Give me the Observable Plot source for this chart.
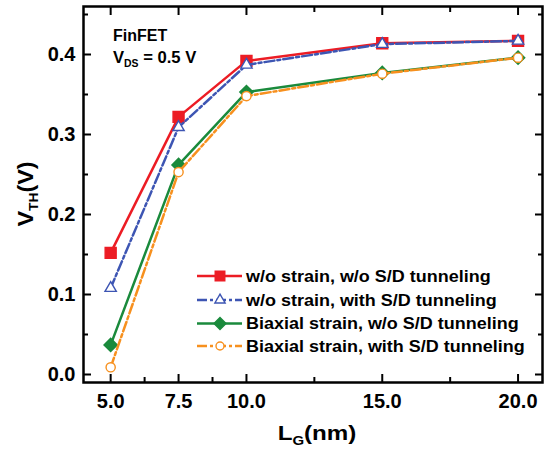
<!DOCTYPE html>
<html>
<head>
<meta charset="utf-8">
<script src="https://cdn.jsdelivr.net/npm/d3@7"></script>
<script src="https://cdn.jsdelivr.net/npm/@observablehq/plot@0.6"></script>
<style>
  html, body { margin: 0; padding: 0; background: #fff; }
  #wrap { position: relative; width: 544px; height: 457px; font-family: "Liberation Sans", Arial, sans-serif; }
  #overlay { position: absolute; left: 0; top: 0; pointer-events: none; }
</style>
</head>
<body>
<div id="wrap"></div>
<script>
// ---- data ----
const lg = [5.0, 7.5, 10.0, 15.0, 20.0];
const seriesNames = [
  "w/o strain, w/o S/D tunneling",
  "w/o strain, with S/D tunneling",
  "Biaxial strain, w/o S/D tunneling",
  "Biaxial strain, with S/D tunneling"
];
const vthNoStrainNoTun = [0.152, 0.322, 0.392, 0.414, 0.417];
const vthNoStrainTun   = [0.108, 0.309, 0.387, 0.413, 0.417];
const vthBiaxNoTun     = [0.037, 0.262, 0.353, 0.377, 0.396];
const vthBiaxTun       = [0.009, 0.253, 0.348, 0.376, 0.396];
const xTickMajor = [5.0, 7.5, 10.0, 15.0, 20.0];
const xTickMinorBottom = [6.25, 8.75, 12.5, 17.5];
const xTickMinorTop = [12.5, 17.5];
const yTickMajor = [0.0, 0.1, 0.2, 0.3, 0.4];
const yTickMinor = [0.05, 0.15, 0.25, 0.35, 0.45];

const colors = ["#ec1c24", "#3d55b3", "#1a8a3c", "#f7901e"];
const dashes = [null, "10,3,3,3", null, "10,3,3,3"];
const symbols = ["square", "triangle", "diamond2", "circle"];
const fills = ["#ec1c24", "white", "#1a8a3c", "white"];
const radii = [6.2, 4.2, 6.0, 4.6];
const allSeries = [vthNoStrainNoTun, vthNoStrainTun, vthBiaxNoTun, vthBiaxTun];

const tables = allSeries.map((vals, i) => lg.map((x, j) => ({x, y: vals[j], s: seriesNames[i]})));

const font = "\"Liberation Sans\", Arial, sans-serif";
const fmt = d3.format(".1f");
const blank = () => "";

const marks = [];
tables.forEach((t, i) => {
  marks.push(Plot.line(t, {x: "x", y: "y", stroke: colors[i], strokeWidth: 2.5, strokeDasharray: dashes[i]}));
  marks.push(Plot.dot(t, {x: "x", y: "y", symbol: () => symbols[i], r: radii[i], fill: fills[i], stroke: colors[i], strokeWidth: 1.4}));
});

const chart = Plot.plot({
  width: 544,
  height: 457,
  marginLeft: 83,
  marginRight: 2,
  marginTop: 6,
  marginBottom: 75,
  style: {fontFamily: font, background: "white", color: "black"},
  x: {domain: [4.0, 20.9]},
  y: {domain: [-0.01, 0.46]},
  symbol: {type: "identity"},
  marks: [
    ...marks,
    Plot.axisX({ticks: xTickMajor, tickSize: -8, tickPadding: 19, tickFormat: fmt, label: null, fontSize: 20, fontWeight: "bold", strokeWidth: 2}),
    Plot.axisX({ticks: xTickMinorBottom, tickSize: -5, tickFormat: blank, label: null, strokeWidth: 2}),
    Plot.axisX({anchor: "top", ticks: xTickMajor, tickSize: -8, tickFormat: blank, label: null, strokeWidth: 2}),
    Plot.axisX({anchor: "top", ticks: xTickMinorTop, tickSize: -5, tickFormat: blank, label: null, strokeWidth: 2}),
    Plot.axisY({ticks: yTickMajor, tickSize: -8, tickPadding: 16, tickFormat: fmt, label: null, fontSize: 20, fontWeight: "bold", strokeWidth: 2}),
    Plot.axisY({ticks: yTickMinor, tickSize: -5, tickFormat: blank, label: null, strokeWidth: 2}),
    Plot.axisY({anchor: "right", ticks: yTickMajor, tickSize: -8, tickFormat: blank, label: null, strokeWidth: 2}),
    Plot.axisY({anchor: "right", ticks: yTickMinor, tickSize: -5, tickFormat: blank, label: null, strokeWidth: 2}),
    Plot.frame({stroke: "black", strokeWidth: 2.5})
  ]
});
const wrap = document.getElementById("wrap");
wrap.appendChild(chart);

// ---- overlay: labels, annotation, legend ----
const svg = d3.select(wrap).append("svg")
  .attr("id", "overlay").attr("width", 544).attr("height", 457)
  .style("font-family", font).style("font-weight", "bold");

// Y label
const yl = svg.append("text")
  .attr("transform", "translate(33,194) rotate(-90) scale(1.06,1)")
  .attr("text-anchor", "middle").attr("font-size", 22).attr("fill", "black");
yl.append("tspan").text("V");
yl.append("tspan").attr("font-size", 13).attr("dy", 5).text("TH");
yl.append("tspan").attr("dy", -5).text("(V)");

// X label
const xl = svg.append("text")
  .attr("transform", "translate(317,440) scale(1.15,1)")
  .attr("text-anchor", "middle").attr("font-size", 21).attr("fill", "black");
xl.append("tspan").text("L");
xl.append("tspan").attr("font-size", 13).attr("dy", 5).text("G");
xl.append("tspan").attr("dy", -5).text("(nm)");

// annotation
svg.append("text").attr("x", 113).attr("y", 41).attr("font-size", 16).text("FinFET");
const vd = svg.append("text").attr("transform", "translate(113,63) scale(1.04,1)").attr("font-size", 16);
vd.append("tspan").text("V");
vd.append("tspan").attr("font-size", 10).attr("dy", 4).text("DS");
vd.append("tspan").attr("dy", -4).text(" = 0.5 V");

// legend
const rowY = [276, 300, 323.5, 346];
const legendR = [5.4, 3.8, 5.4, 4.0];
seriesNames.forEach((name, i) => {
  const g = svg.append("g").attr("transform", `translate(0,${rowY[i]})`);
  g.append("line").attr("x1", 197).attr("x2", 242).attr("y1", 0).attr("y2", 0)
    .attr("stroke", colors[i]).attr("stroke-width", 2.5)
    .attr("stroke-dasharray", dashes[i]);
  const symType = {square: d3.symbolSquare, triangle: d3.symbolTriangle, diamond2: d3.symbolDiamond2, circle: d3.symbolCircle}[symbols[i]];
  g.append("path").attr("transform", "translate(220,0)")
    .attr("d", d3.symbol(symType, Math.PI * legendR[i] * legendR[i])())
    .attr("fill", fills[i]).attr("stroke", colors[i]).attr("stroke-width", 1.4);
  g.append("text").attr("transform", "translate(246,5.8) scale(1.09,1)")
    .attr("font-size", 16.5).attr("fill", "black").text(name);
});
</script>
</body>
</html>
